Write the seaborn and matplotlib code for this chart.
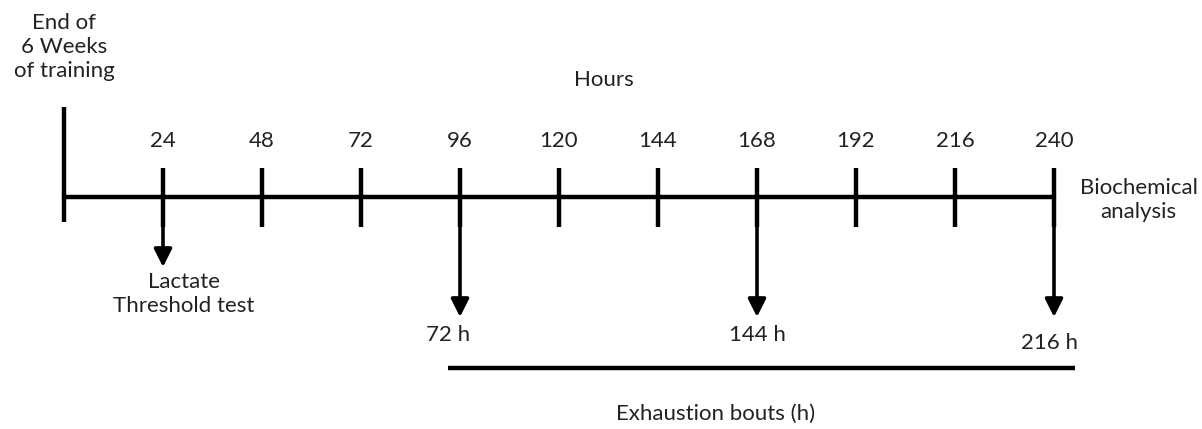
import numpy as np
import matplotlib
matplotlib.use("Agg")
import matplotlib.pyplot as plt
import seaborn as sns

sns.set_theme(style="white")
plt.rcParams["font.family"] = ["Lato", "DejaVu Sans"]

# Timeline data (hours)
tick_hours = [24, 48, 72, 96, 120, 144, 168, 192, 216, 240]
tick_labels = ["24", "48", "72", "96", "120", "144", "168", "192", "216", "240"]
lactate_hour = 24
exhaustion_hours = [96, 168, 240]
exhaustion_labels = ["72 h", "144 h", "216 h"]
bout_span = [93, 245]

# Layout: x in hours, y in pixels from top
px_per_h = 4.125
x0_px = 64
W, H = 1202, 429
line_y = 197

fig = plt.figure(figsize=(W / 100, H / 100), dpi=100)
ax = fig.add_axes([0, 0, 1, 1])
ax.set_xlim(-x0_px / px_per_h, (W - x0_px) / px_per_h)
ax.set_ylim(H, 0)
ax.axis("off")

k = "black"
tc = "#222222"
fs = 16

# main timeline
sns.lineplot(x=[0, 240], y=[line_y, line_y], color=k, lw=3.2, ax=ax)
ax.plot([0, 0], [107, 222], color=k, lw=3.2, solid_capstyle="butt")

for h, lab in zip(tick_hours, tick_labels):
    ax.plot([h, h], [168, 227], color=k, lw=3.2, solid_capstyle="butt")
    ax.text(h, 141, lab, ha="center", va="center", fontsize=fs, color=tc)

# arrows
def arrow(h, y_end):
    ax.annotate("", xy=(h, y_end), xytext=(h, line_y),
                arrowprops=dict(arrowstyle="-|>,head_length=0.9,head_width=0.45",
                                color=k, lw=2.6, shrinkA=0, shrinkB=0))

arrow(lactate_hour, 267)
for h in exhaustion_hours:
    arrow(h, 317)

ax.text(lactate_hour + 5, 294, "Lactate\nThreshold test", ha="center", va="center",
        fontsize=fs, linespacing=1.25, color=tc)

label_x = [93, 168, 239]
label_y = [335, 335, 343]
for x, y, lab in zip(label_x, label_y, exhaustion_labels):
    ax.text(x, y, lab, ha="center", va="center", fontsize=fs, color=tc)

ax.plot(bout_span, [368, 368], color=k, lw=3.2, solid_capstyle="butt")
ax.text(158, 414, "Exhaustion bouts (h)", ha="center", va="center", fontsize=fs, color=tc)

ax.text(0, 47, "End of\n6 Weeks\nof training", ha="center", va="center",
        fontsize=fs, linespacing=1.25, color=tc)
ax.text(131, 80, "Hours", ha="center", va="center", fontsize=fs, color=tc)
ax.text(260.5, 200, "Biochemical\nanalysis", ha="center", va="center",
        fontsize=fs, linespacing=1.25, color=tc)

fig.savefig("out.png", dpi=100)
